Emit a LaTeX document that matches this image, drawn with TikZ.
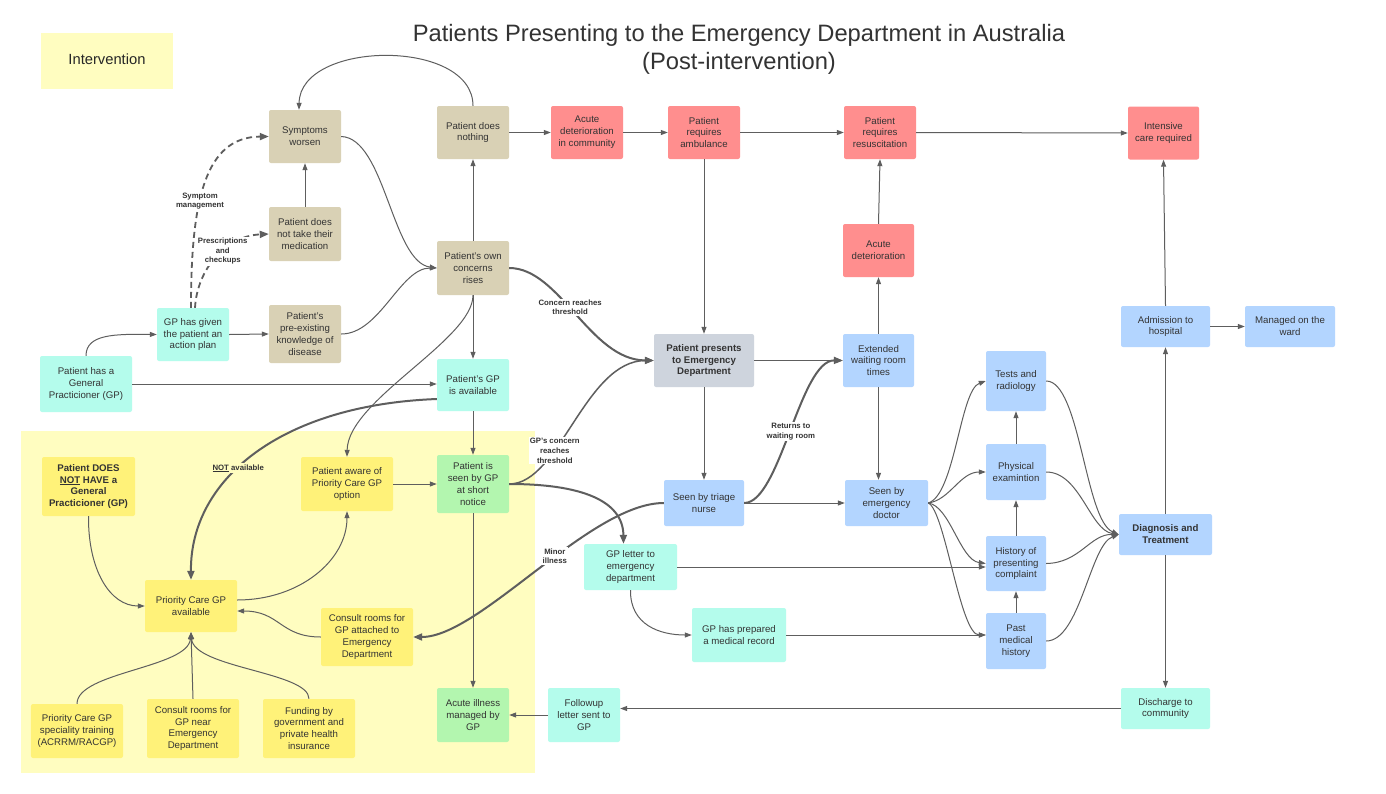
\documentclass[tikz,border=0pt]{standalone}
\usepackage{fontspec}
\setmainfont{Liberation Sans}
\usetikzlibrary{arrows.meta,calc}
\definecolor{ctan}{HTML}{D9D1B5}
\definecolor{cred}{HTML}{FF8E8E}
\definecolor{ccyan}{HTML}{B4FCEC}
\definecolor{cblue}{HTML}{B3D5FF}
\definecolor{cgray}{HTML}{CED4DD}
\definecolor{cyel}{HTML}{FFF279}
\definecolor{cbg}{HTML}{FFFDC0}
\definecolor{cgreen}{HTML}{B3F6AF}
\definecolor{ctext}{HTML}{333333}
\definecolor{cedge}{HTML}{5E5E5E}
\begin{document}
\begin{tikzpicture}[x=1bp,y=-1bp,
 box/.style={rectangle, rounded corners=2bp, draw=none, align=center, text=ctext,
   font=\fontsize{9.7}{12}\selectfont, inner sep=1bp},
 bbox/.style={box, font=\fontsize{9.7}{12}\selectfont\bfseries},
 ar/.style={draw=cedge, line width=1bp, -{Triangle[length=7bp,width=5bp]}},
 md/.style={draw=cedge, line width=1.5bp, -{Triangle[length=8bp,width=6bp]}},
 tk/.style={draw=cedge, line width=2bp, -{Triangle[length=9bp,width=7bp]}},
 dsh/.style={draw=cedge, line width=1.8bp, dash pattern=on 6bp off 4bp, -{Triangle[length=9bp,width=7bp]}},
 lbl/.style={font=\fontsize{7.8}{9.6}\selectfont\bfseries, text=ctext, align=center, fill=white, inner sep=1bp}
]
\fill[white] (0,0) rectangle (1386,793);
\path[use as bounding box] (0,0) rectangle (1386,793);
\fill[cbg] (21,431) rectangle (535,773);

\node[fill=cbg, minimum width=132bp, minimum height=56bp, inner sep=0pt,
  font=\fontsize{14.8}{17}\selectfont, text=black!85] (legend) at (107,61) {\raisebox{3bp}{Intervention}};
\node[font=\fontsize{23.8}{28}\selectfont, align=center, text=ctext] (title) at (739,49)
  {Patients Presenting to the Emergency Department in Australia\\(Post-intervention)};

% nodes
\node[box, fill=ctan, minimum width=72bp, minimum height=53bp] (sw) at (305,136.5) {Symptoms\\worsen};
\node[box, fill=ctan, minimum width=72bp, minimum height=53bp] (pdn) at (473,132.5) {Patient does\\nothing};
\node[box, fill=cred, minimum width=72bp, minimum height=53bp] (adc) at (587,132.5) {Acute\\deterioration\\in community};
\node[box, fill=cred, minimum width=72bp, minimum height=53bp] (amb) at (704,132.5) {Patient\\requires\\ambulance};
\node[box, fill=cred, minimum width=72bp, minimum height=53bp] (res) at (880,132.5) {Patient\\requires\\resuscitation};
\node[box, fill=cred, minimum width=71bp, minimum height=53bp] (icu) at (1163.5,133) {Intensive\\care required};
\node[box, fill=ctan, minimum width=72bp, minimum height=54bp] (med) at (305,234) {Patient does\\not take their\\medication};
\node[box, fill=ctan, minimum width=72bp, minimum height=54bp] (poc) at (473,268) {Patient's own\\concerns\\rises};
\node[box, fill=cred, minimum width=71bp, minimum height=53bp] (ad) at (878.5,250.5) {Acute\\deterioration};
\node[box, fill=ccyan, minimum width=72bp, minimum height=53bp] (gpa) at (193,334.5) {GP has given\\the patient an\\action plan};
\node[box, fill=ctan, minimum width=72bp, minimum height=58bp] (pre) at (305,334) {Patient's\\pre-existing\\knowledge of\\disease};
\node[bbox, fill=cgray, minimum width=100bp, minimum height=53bp] (pres) at (704,360.5) {Patient presents\\to Emergency\\Department};
\node[box, fill=cblue, minimum width=71bp, minimum height=53bp] (ext) at (878.5,360.5) {Extended\\waiting room\\times};
\node[box, fill=cblue, minimum width=89bp, minimum height=41bp] (adm) at (1165.5,326.5) {Admission to\\hospital};
\node[box, fill=cblue, minimum width=90bp, minimum height=41bp] (ward) at (1290,326.5) {Managed on the\\ward};
\node[box, fill=ccyan, minimum width=92bp, minimum height=56bp] (phgp) at (86,384) {Patient has a\\General\\Practicioner (GP)};
\node[box, fill=ccyan, minimum width=72bp, minimum height=52bp] (pga) at (473,385) {Patient's GP\\is available};
\node[box, fill=cblue, minimum width=60bp, minimum height=60bp] (tests) at (1016,381) {Tests and\\radiology};
\node[bbox, fill=cyel, minimum width=93bp, minimum height=59bp] (nogp) at (88.5,486.5) {Patient DOES\\\underline{NOT} HAVE a\\General\\Practicioner (GP)};
\node[box, fill=cyel, minimum width=92bp, minimum height=54bp] (aware) at (347,484) {Patient aware of\\Priority Care GP\\option};
\node[box, fill=cgreen, minimum width=72bp, minimum height=58bp] (sgp) at (473,484) {Patient is\\seen by GP\\at short\\notice};
\node[box, fill=cblue, minimum width=80bp, minimum height=46bp] (tri) at (704,503) {Seen by triage\\nurse};
\node[box, fill=cblue, minimum width=83bp, minimum height=46bp] (doc) at (886.5,503) {Seen by\\emergency\\doctor};
\node[box, fill=cblue, minimum width=60bp, minimum height=56bp] (phys) at (1016,472) {Physical\\examintion};
\node[bbox, fill=cblue, minimum width=93bp, minimum height=41bp] (diag) at (1165.5,534.5) {Diagnosis and\\Treatment};
\node[box, fill=ccyan, minimum width=93bp, minimum height=46bp] (gpl) at (630.5,567) {GP letter to\\emergency\\department};
\node[box, fill=cblue, minimum width=60bp, minimum height=55bp] (hist) at (1016,563.5) {History of\\presenting\\complaint};
\node[box, fill=cyel, minimum width=92bp, minimum height=52bp] (pcga) at (191,606) {Priority Care GP\\available};
\node[box, fill=cyel, minimum width=92bp, minimum height=58bp] (cra) at (367,637) {Consult rooms for\\GP attached to\\Emergency\\Department};
\node[box, fill=ccyan, minimum width=94bp, minimum height=54bp] (rec) at (739,635) {GP has prepared\\a medical record};
\node[box, fill=cblue, minimum width=60bp, minimum height=56bp] (past) at (1016,641) {Past\\medical\\history};
\node[box, fill=cyel, minimum width=92bp, minimum height=54bp] (train) at (77,731) {Priority Care GP\\speciality training\\(ACRRM/RACGP)};
\node[box, fill=cyel, minimum width=92bp, minimum height=59bp] (crn) at (193,728.5) {Consult rooms for\\GP near\\Emergency\\Department};
\node[box, fill=cyel, minimum width=92bp, minimum height=59bp] (fund) at (309,728.5) {Funding by\\government and\\private health\\insurance};
\node[box, fill=cgreen, minimum width=72bp, minimum height=54bp] (aim) at (473,715) {Acute illness\\managed by\\GP};
\node[box, fill=ccyan, minimum width=72bp, minimum height=54bp] (fol) at (584,715) {Followup\\letter sent to\\GP};
\node[box, fill=ccyan, minimum width=89bp, minimum height=41bp] (dis) at (1165.5,708.5) {Discharge to\\community};

% connectors - top row
\draw[ar] (pdn.east) -- (adc.west);
\draw[ar] (adc.east) -- (amb.west);
\draw[ar] (amb.east) -- (res.west);
\draw[ar] (res.east) -- (icu.west);
\draw[ar] (amb.south) -- (pres.north);
\draw[ar] (pdn.north) .. controls (473,38) and (300,40) .. ([xshift=-6bp]sw.north);
\draw[ar] (sw.east) .. controls (385,138) and (392,262) .. (poc.west);
\draw[ar] (med.north) -- (sw.south);
\draw[dsh] ([xshift=-2bp]gpa.north) .. controls (191,200) and (205,137) .. (sw.west)
  node[lbl,pos=0.4] (l1) {Symptom\\management};
\draw[dsh] ([xshift=2bp]gpa.north) .. controls (197,270) and (225,236) .. (med.west)
  node[lbl,pos=0.58] (l2) {Prescriptions\\and\\checkups};
\draw[ar] (gpa.east) -- (pre.west);
\draw[ar] (pre.east) .. controls (380,334) and (400,268) .. (poc.west);
\draw[ar] (phgp.north) .. controls (86,334) and (115,334) .. (gpa.west);
\draw[ar] (phgp.east) -- (phgp.east -| pga.west);
\draw[ar] (poc.north) -- (pdn.south);
\draw[ar] (poc.south) -- (pga.north);
\draw[ar] (poc.south) .. controls (473,340) and (348,400) .. (aware.north);
\draw[tk] (poc.east) .. controls (560,268) and (590,360) .. (pres.west)
  node[lbl,pos=0.45] (l3) {Concern reaches\\threshold};

% ED flow
\draw[ar] (pres.east) -- (ext.west);
\draw[ar] (ext.north) -- (ad.south);
\draw[ar] (ad.north) -- (res.south);
\draw[ar] (ext.south) -- (ext.south |- doc.north);
\draw[ar] (pres.south) -- (tri.north);
\draw[ar] (tri.east) -- (doc.west);
\draw[tk] (tri.east) .. controls (780,503) and (800,360) .. (ext.west)
  node[lbl,pos=0.5] (l4) {Returns to\\waiting room};
\draw[tk] (tri.west) .. controls (590,503) and (480,637) .. (cra.east)
  node[lbl,pos=0.43] (l5) {Minor\\illness};

% GP flow
\draw[tk] ([yshift=-14bp]pga.west) .. controls (280,405) and (190,480) .. (pcga.north)
  node[lbl,fill=cbg,pos=0.57] (l6) {\underline{NOT} available};
\draw[ar] (pga.south) -- (sgp.north);
\draw[ar] (aware.east) -- (sgp.west);
\draw[md] (sgp.east) .. controls (560,484) and (585,360) .. (pres.west)
  node[lbl,pos=0.34] (l7) {GP's concern\\reaches\\threshold};
\draw[tk] (sgp.east) .. controls (580,484) and (623,500) .. ([xshift=-7bp]gpl.north);
\draw[ar] (sgp.south) -- (aim.north);
\draw[ar] (nogp.south) .. controls (88,570) and (110,606) .. (pcga.west);
\draw[ar] ([yshift=6bp]pcga.east) .. controls (300,600) and (347,560) .. (aware.south);
\draw[ar] (cra.west) .. controls (280,637) and (280,611) .. ([yshift=-5bp]pcga.east);
\draw[ar] (train.north) .. controls (77,672) and (188,668) .. (pcga.south);
\draw[ar] (crn.north) -- (pcga.south);
\draw[ar] (fund.north) .. controls (309,672) and (194,668) .. (pcga.south);

% letters and records
\draw[ar] (gpl.east) -- (gpl.east -| hist.west);
\draw[ar] (gpl.south) .. controls (630,625) and (660,635) .. (rec.west);
\draw[ar] (rec.east) -- (rec.east -| past.west);

% doctor fan
\draw[ar] (doc.east) .. controls (955,495) and (960,390) .. (tests.west);
\draw[ar] (doc.east) .. controls (950,500) and (960,472) .. (phys.west);
\draw[ar] (doc.east) .. controls (950,506) and (960,560) .. (hist.west);
\draw[ar] (doc.east) .. controls (945,510) and (960,635) .. ([yshift=6bp]past.west);
\draw[ar] (past.north) -- (hist.south);
\draw[ar] (hist.north) -- (phys.south);
\draw[ar] (phys.north) -- (tests.south);
\draw[ar] (tests.east) .. controls (1080,381) and (1085,520) .. (diag.west);
\draw[ar] (phys.east) .. controls (1080,472) and (1090,530) .. (diag.west);
\draw[ar] (hist.east) .. controls (1080,563) and (1090,534) .. (diag.west);
\draw[ar] (past.east) .. controls (1080,641) and (1090,545) .. (diag.west);
\draw[ar] (diag.north) -- (adm.south);
\draw[ar] (diag.south) -- (dis.north);
\draw[ar] (adm.north) -- (icu.south);
\draw[ar] (adm.east) -- (ward.west);
\draw[ar] (dis.west) -- (dis.west -| fol.east);
\draw[ar] (fol.west) -- (aim.east);
\end{tikzpicture}
\end{document}
